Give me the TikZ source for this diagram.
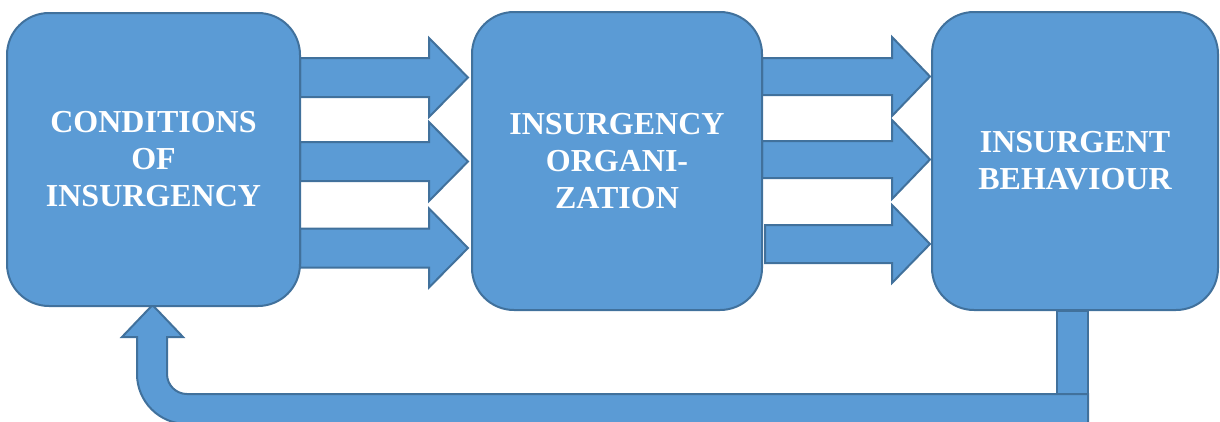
\documentclass[tikz,border=0pt]{standalone}
\usepackage{fontspec}
\setmainfont{Liberation Serif}
\definecolor{boxfill}{HTML}{5B9BD5}
\definecolor{boxline}{HTML}{41719C}
\newcommand\blockarrow[6]{%
  \draw[blk] (#1,#4-#5) -- (#2,#4-#5) -- (#2,#4-#6) -- (#3,#4) -- (#2,#4+#6) -- (#2,#4+#5) -- (#1,#4+#5) -- cycle;}
\begin{document}
\begin{tikzpicture}[x=1pt,y=-1pt,
  blk/.style={draw=boxline, fill=boxfill, line width=2pt, line join=miter},
  boxnode/.style={blk, rounded corners=42pt, align=center, text=white,
    font=\fontsize{32}{37}\selectfont\bfseries, inner sep=0pt},
]
\useasboundingbox (0,0) rectangle (1220,421);
\clip (0,0) rectangle (1220,421);

% arrows between box 1 and box 2
\blockarrow{300}{429}{468}{77.5}{19.5}{39.5}
\blockarrow{300}{429}{468}{161.5}{19.5}{39.5}
\blockarrow{300}{429}{468}{248}{19.5}{39.5}
% arrows between box 2 and box 3
\blockarrow{762}{892}{930}{76.5}{18.5}{39.5}
\blockarrow{762}{892}{930}{159.5}{18.5}{39.5}
\blockarrow{765}{892}{930}{244}{19}{39}

% feedback arrow
\coordinate (fbtip) at (152.5,305);
\draw[blk] (1088,394) -- (187,394) arc[start angle=90, end angle=180, radius=20]
  -- (167,337) -- (183,337) -- (fbtip) -- (122,337) -- (137,337) -- (137,374)
  arc[start angle=180, end angle=90, radius=50] -- (1088,424) -- cycle;
\draw[blk] (1057,311) rectangle (1088,394);

% boxes
\node[boxnode, minimum width=293pt, minimum height=293pt] (box1) at (153.5,159.5)
  {CONDITIONS\\OF\\INSURGENCY};
\node[boxnode, minimum width=290pt, minimum height=298pt] (box2) at (617,161)
  {INSURGENCY\\ORGANI-\\ZATION};
\node[boxnode, minimum width=286pt, minimum height=298pt] (box3) at (1075,161)
  {INSURGENT\\BEHAVIOUR};
\end{tikzpicture}
\end{document}
